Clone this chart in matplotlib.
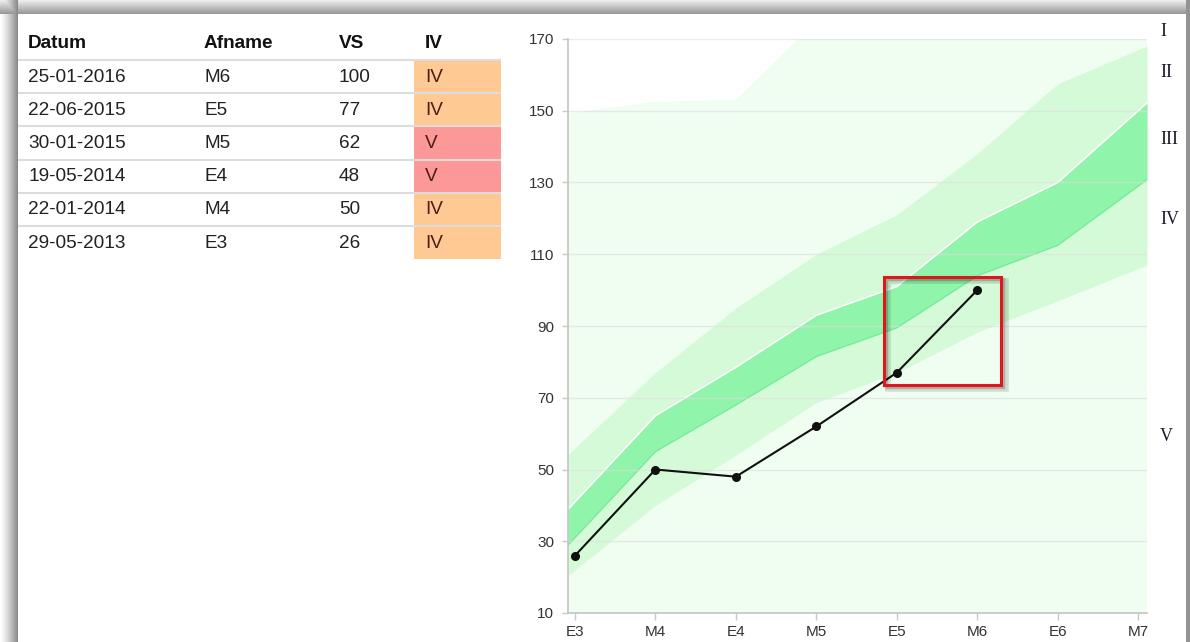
import numpy as np
import matplotlib
matplotlib.use('Agg')
import matplotlib.pyplot as plt
import matplotlib.transforms as mtrans
from matplotlib.patches import Rectangle
import matplotlib.patheffects as pe

# ---------------- data ----------------
headers = ['Datum', 'Afname', 'VS', 'IV']
datum = ['25-01-2016', '22-06-2015', '30-01-2015', '19-05-2014', '22-01-2014', '29-05-2013']
afname = ['M6', 'E5', 'M5', 'E4', 'M4', 'E3']
vs = [100, 77, 62, 48, 50, 26]
iv = ['IV', 'IV', 'V', 'V', 'IV', 'IV']

categories = ['E3', 'M4', 'E4', 'M5', 'E5', 'M6', 'E6', 'M7']
top_edge = [149.5, 152.5, 153, 175, 197, 219, 241, 263]
light_upper = [56, 77, 95, 110, 121, 138, 157.5, 167]
medium_upper = [41, 65, 78.5, 93, 101, 119, 130, 150]
medium_lower = [31, 55, 68, 81.5, 89.5, 104, 112.5, 129]
light_lower = [22, 40, 54, 68.7, 77, 88.3, 97, 106]

zone_labels = ['I', 'II', 'III', 'IV', 'V']
zone_label_y = [172, 160.8, 142.1, 119.8, 59.1]
yticks = [10, 30, 50, 70, 90, 110, 130, 150, 170]
highlight_box = (3.84, 73.6, 5.30, 103.7)

# ---------------- figure ----------------
W, H = 1190, 642
fig = plt.figure(figsize=(W / 100, H / 100), dpi=100)
fig.patch.set_facecolor('white')

# background with screenshot-like shadow frame
bg = fig.add_axes([0, 0, 1, 1])
bg.set_xlim(0, W)
bg.set_ylim(H, 0)
bg.axis('off')
img = np.ones((H, W))
rows = np.arange(14)
top_vals = 0.93 - 0.33 * (rows / 13.0)
img[:14, :] = np.minimum(img[:14, :], top_vals[:, None])
cols = np.arange(18)
left_vals = 1.0 - 0.46 * (cols / 17.0) ** 1.3
img[:, :18] = np.minimum(img[:, :18], left_vals[None, :])
img[:, 1186:] = np.minimum(img[:, 1186:], 0.58)
bg.imshow(np.dstack([img, img, img]), extent=(0, W, H, 0), aspect='auto',
          interpolation='nearest', zorder=0)

# ---------------- table ----------------
tfont = 'Liberation Sans'
col_x = [28, 204, 339, 425]
head_y = 44
row_top0 = 60
row_h = 33.2
for x, h in zip(col_x, headers):
    bg.text(x, head_y, h, fontsize=13.7, fontweight='bold', family=tfont,
            color='#111111', va='center', ha='left', zorder=3)
cell_colors = {'IV': '#fec993', 'V': '#fd9898'}
for i, (d, a, v, c) in enumerate(zip(datum, afname, vs, iv)):
    top = row_top0 + i * row_h
    cy = top + row_h / 2 + 0.5
    bg.add_patch(Rectangle((414, top + 1), 87, row_h - 1.5, facecolor=cell_colors[c],
                           edgecolor='none', zorder=1))
    bg.plot([18, 501], [top, top], color='#dddddd', lw=1.5, zorder=2,
            solid_capstyle='butt')
    for x, t in zip(col_x[:3], [d, a, str(v)]):
        bg.text(x, cy, t, fontsize=13.7, family=tfont, color='#222222',
                va='center', ha='left', zorder=3)
    bg.text(col_x[3], cy, c, fontsize=13.7, family=tfont, color='#4a1c1c',
            va='center', ha='left', zorder=3)

# ---------------- chart ----------------
px_left, px_right, px_top, px_bot = 568, 1147, 39, 613
ax = fig.add_axes([px_left / W, 1 - px_bot / H, (px_right - px_left) / W,
                   (px_bot - px_top) / H])
ax.patch.set_alpha(0)
xl, xr = -0.087, 7.11
ax.set_xlim(xl, xr)
ax.set_ylim(10, 170)

idx = np.arange(len(categories))


def extend(vals):
    v = np.asarray(vals, dtype=float)
    left = v[0] + (v[0] - v[1]) * (0 - xl)
    right = v[-1] + (v[-1] - v[-2]) * (xr - idx[-1])
    return np.concatenate([[left], v, [right]])


xs = np.concatenate([[xl], idx, [xr]])
T = extend(top_edge)
LU = extend(light_upper)
MU = extend(medium_upper)
ML = extend(medium_lower)
LL = extend(light_lower)

ax.fill_between(xs, 10, T, color='#f0fdf1', lw=0, zorder=1)
ax.fill_between(xs, LL, LU, color='#d5fad8', lw=0, zorder=1.1)
ax.fill_between(xs, ML, MU, color='#90f5aa', lw=0, zorder=1.2)
ax.plot(xs, MU, color='white', lw=1.1, zorder=1.3)
ax.plot(xs, ML, color='#74ea95', lw=0.8, zorder=1.3)

ax.set_axisbelow('line')
ax.yaxis.grid(True, color='#dedede', lw=1.0, alpha=0.6)
ax.xaxis.grid(False)

# measured series from the table
sx = [categories.index(a) for a in afname[::-1]]
sy = vs[::-1]
ax.plot(sx, sy, color='#111111', lw=1.5, marker='o', markersize=5.5, zorder=5)

# highlight box
bx0, by0, bx1, by1 = highlight_box
rect = Rectangle((bx0, by0), bx1 - bx0, by1 - by0, fill=False, edgecolor='#e3141c',
                 lw=2.2, zorder=6)
rect.set_path_effects([pe.SimpleLineShadow(offset=(3, -3), shadow_color='black',
                                           alpha=0.12, linewidth=4),
                       pe.SimpleLineShadow(offset=(1.5, -1.5), shadow_color='black',
                                           alpha=0.2, linewidth=2.5),
                       pe.Normal()])
ax.add_patch(rect)

# axes styling
afont = 'Liberation Sans'
ax.set_yticks(yticks)
ax.set_xticks(idx)
ax.set_xticklabels(categories, fontsize=11, family=afont, color='#333333')
ax.set_yticklabels([str(t) for t in yticks], fontsize=11, family=afont, color='#333333')
ax.tick_params(axis='y', length=4, width=1, color='#c8c8c8', pad=6)
ax.tick_params(axis='x', length=5, width=1, color='#c8c8c8', pad=4)
for s in ['top', 'right']:
    ax.spines[s].set_visible(False)
for s in ['left', 'bottom']:
    ax.spines[s].set_color('#c4c4c4')
    ax.spines[s].set_linewidth(1.2)

# zone labels at right
lab_tr = mtrans.blended_transform_factory(bg.transData, ax.transData)
for lab, y in zip(zone_labels, zone_label_y):
    ax.text(1160, y, lab, transform=lab_tr, fontsize=13, family='Liberation Serif',
            color='#1c1c2c', va='center', ha='left', clip_on=False, zorder=7)

fig.savefig('out.png', dpi=100, facecolor='white')
